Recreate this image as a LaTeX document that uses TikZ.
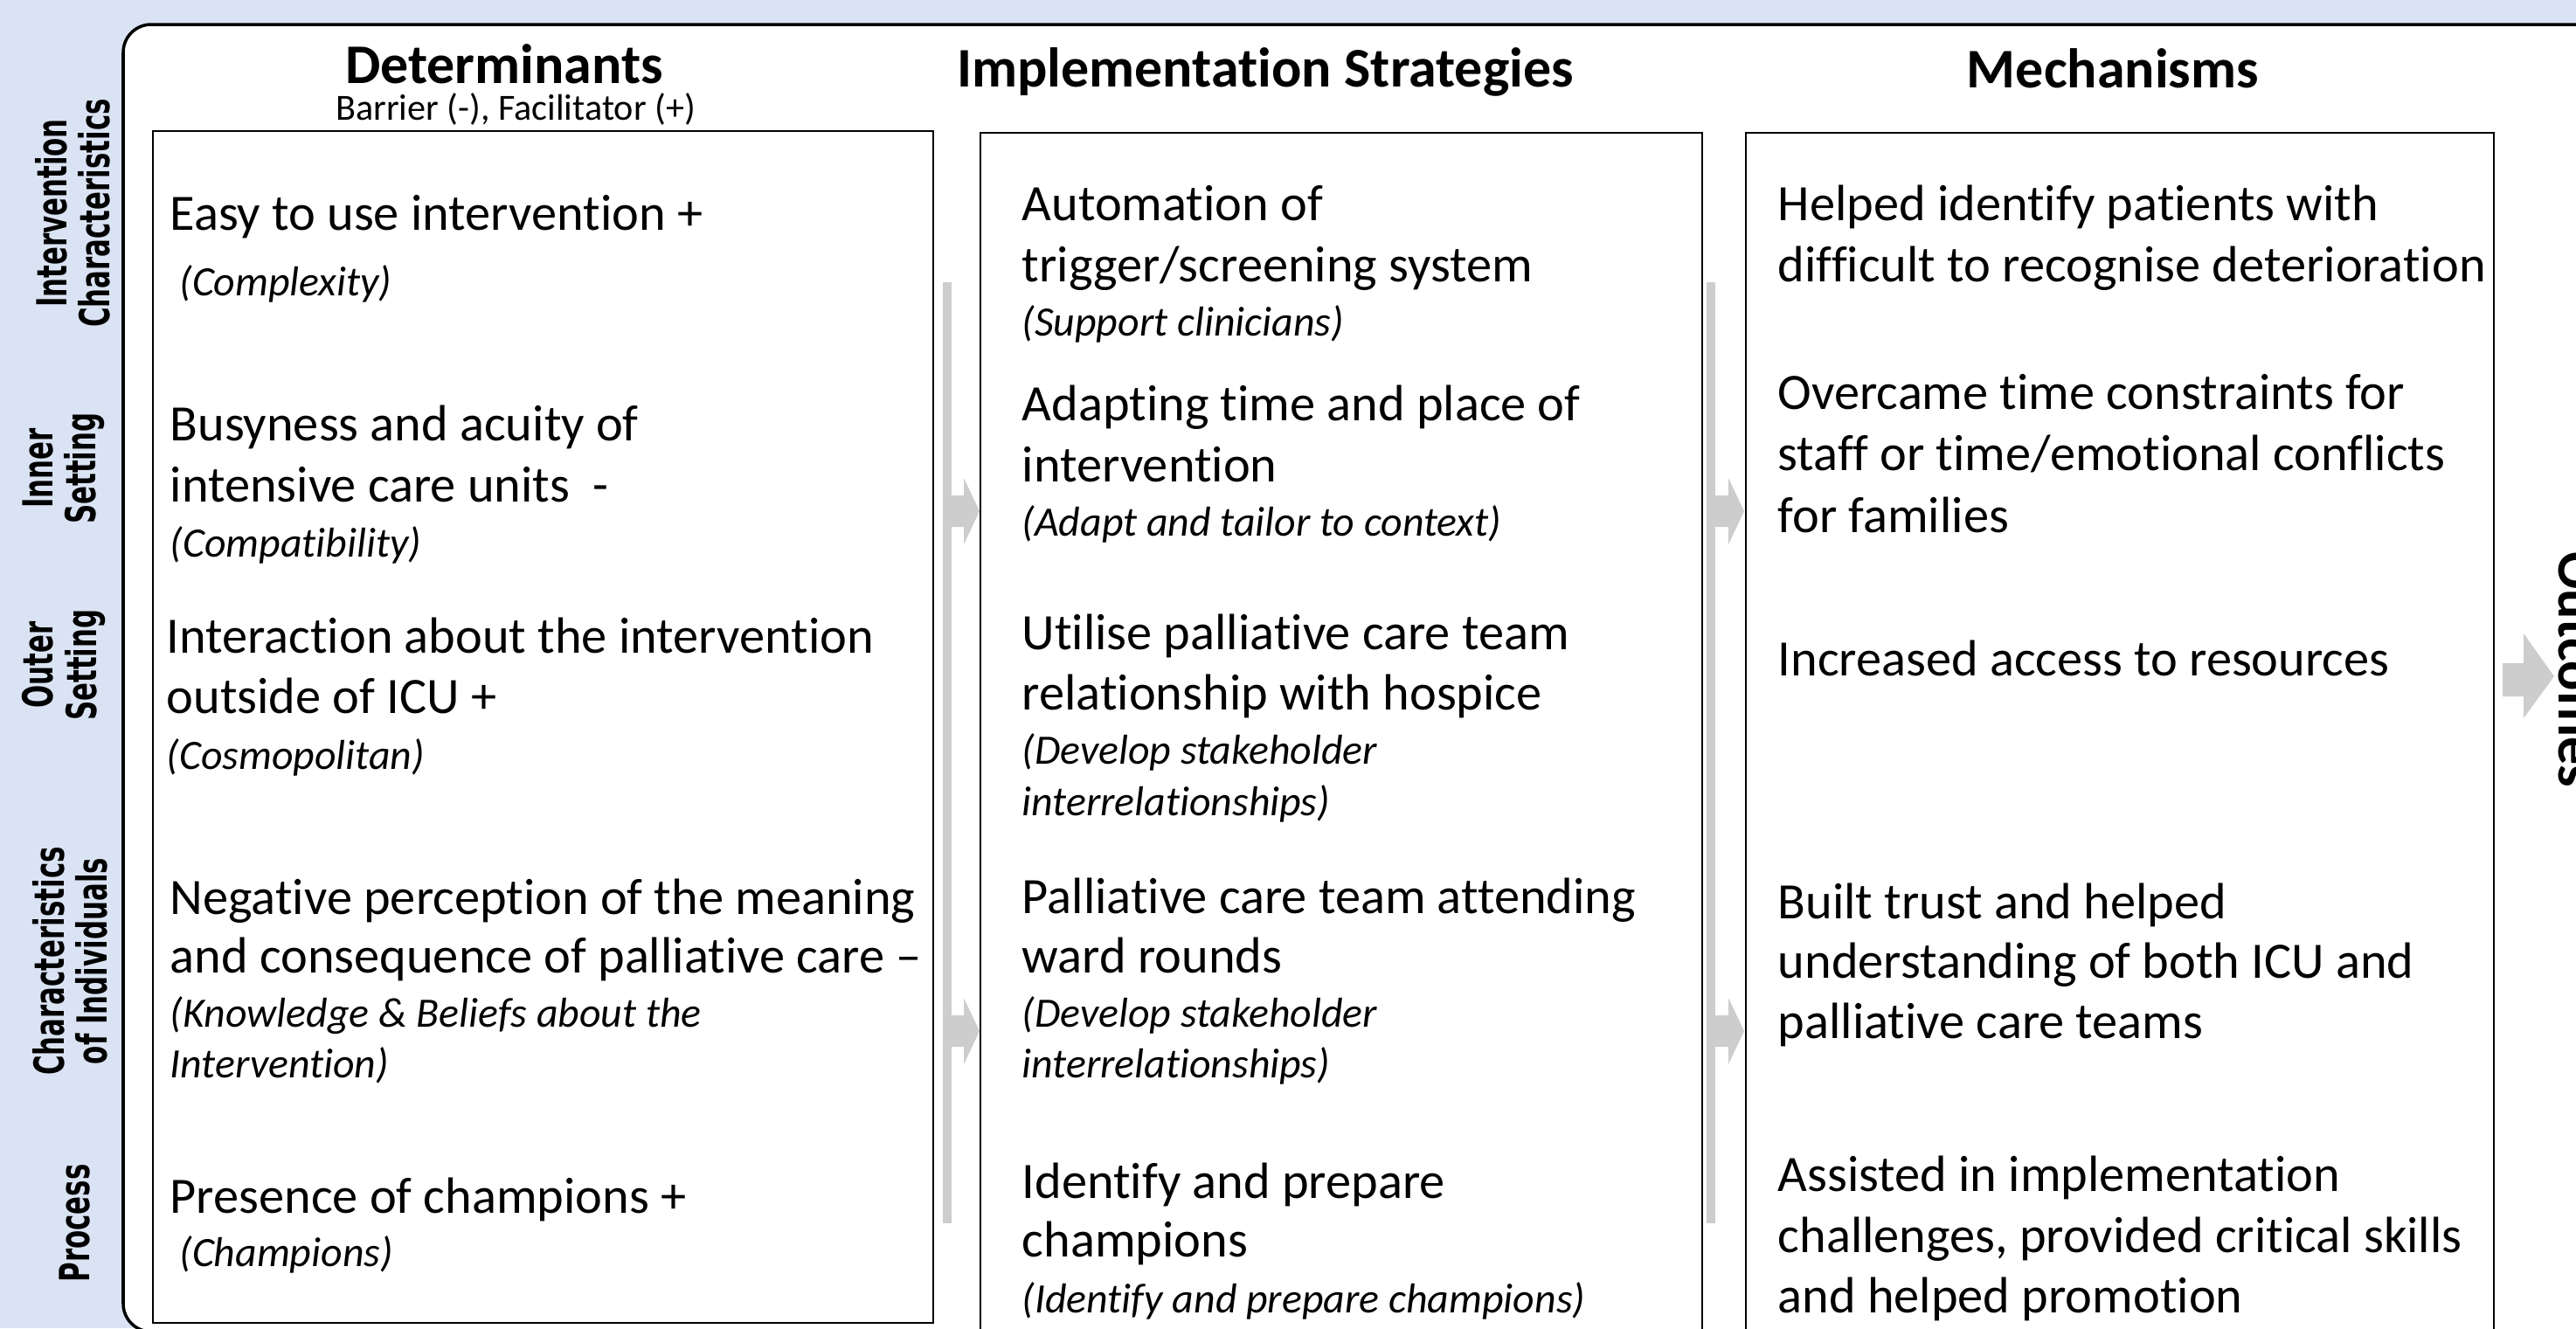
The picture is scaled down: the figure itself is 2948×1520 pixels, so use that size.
\documentclass[tikz,border=0pt]{standalone}
\usepackage{fontspec}
\setmainfont{Carlito}[Ligatures=NoCommon]
\newfontfamily\lblfont{DejaVu Sans}[FakeStretch=0.65]
\definecolor{bgblue}{RGB}{218,227,243}
\definecolor{arrgray}{RGB}{205,205,205}
\begin{document}
\begin{tikzpicture}[x=0.01cm,y=-0.01cm,
  hdr/.style={inner sep=0pt,font=\fontsize{18.2pt}{20pt}\selectfont\bfseries},
  ln/.style={inner sep=0pt,anchor=base west,font=\fontsize{16.6pt}{19pt}\selectfont},
  it/.style={inner sep=0pt,anchor=base west,font=\fontsize{13.6pt}{16pt}\selectfont\itshape},
  lbl/.style={inner sep=0pt,rotate=90,align=center,font=\lblfont\fontsize{13.5pt}{14pt}\selectfont\bfseries},
  colbox/.style={draw=black,line width=0.8pt,fill=white},
  garrow/.style={fill=arrgray,draw=none}]
\useasboundingbox (0,0) rectangle (2948,1520);
\clip (0,0) rectangle (2948,1520);
\fill[bgblue] (0,0) rectangle (2948,1520);
\draw[line width=1pt,fill=white,rounded corners=0.32cm] (141,28) rectangle (3050,1524);
% column boxes
\draw[colbox] (175,150) rectangle (1068,1514);
\draw[colbox] (1122,152) rectangle (1948,1540);
\draw[colbox] (1998,152) rectangle (2854,1540);
% headers
\node[hdr] (hdet) at (577,73) {Determinants};
\node[inner sep=0pt,font=\fontsize{12pt}{14pt}\selectfont] (hbar) at (590,125) {Barrier (-), Facilitator (+)};
\node[hdr] (himp) at (1448,82) {Implementation Strategies};
\node[hdr] (hmech) at (2418,78) {Mechanisms};
% left labels
\node[lbl] (l1) at (83,244) {Intervention\\Characteristics};
\node[lbl] (l2) at (73,536) {Inner\\Setting};
\node[lbl] (l3) at (73,761) {Outer\\Setting};
\node[lbl] (l4) at (80,1100) {Characteristics\\of Individuals};
\node[lbl] (l5) at (86,1400) {Process};
% Outcomes
\node[inner sep=0pt,rotate=-90,anchor=base,font=\fontsize{18.2pt}{20pt}\selectfont\bfseries] (hout) at (2928,766) {Outcomes};
% Determinants texts
\node[ln] (d1a) at (194,263) {Easy to use intervention +};
\node[it] (d1b) at (194,338) {\ (Complexity)};
\node[ln] (d2a) at (194,504) {Busyness and acuity of};
\node[ln] (d2b) at (194,574) {intensive care units\ \ -};
\node[it] (d2c) at (194,637) {(Compatibility)};
\node[ln] (d3a) at (190,747) {Interaction about the intervention};
\node[ln] (d3b) at (190,816) {outside of ICU +};
\node[it] (d3c) at (190,880) {(Cosmopolitan)};
\node[ln] (d4a) at (194,1046) {Negative perception of the meaning};
\node[ln] (d4b) at (194,1113) {and consequence of palliative care –};
\node[it] (d4c) at (194,1175) {(Knowledge \& Beliefs about the};
\node[it] (d4d) at (194,1233) {Intervention)};
\node[ln] (d5a) at (194,1388) {Presence of champions +};
\node[it] (d5b) at (194,1449) {\ (Champions)};
% Implementation texts
\node[ln] (s1a) at (1169,252) {Automation of};
\node[ln] (s1b) at (1169,322) {trigger/screening system};
\node[it] (s1c) at (1169,384) {(Support clinicians)};
\node[ln] (s2a) at (1169,481) {Adapting time and place of};
\node[ln] (s2b) at (1169,551) {intervention};
\node[it] (s2c) at (1169,613) {(Adapt and tailor to context)};
\node[ln] (s3a) at (1169,743) {Utilise palliative care team};
\node[ln] (s3b) at (1169,812) {relationship with hospice};
\node[it] (s3c) at (1169,874) {(Develop stakeholder};
\node[it] (s3d) at (1169,933) {interrelationships)};
\node[ln] (s4a) at (1169,1045) {Palliative care team attending};
\node[ln] (s4b) at (1169,1113) {ward rounds};
\node[it] (s4c) at (1169,1175) {(Develop stakeholder};
\node[it] (s4d) at (1169,1233) {interrelationships)};
\node[ln] (s5a) at (1169,1371) {Identify and prepare};
\node[ln] (s5b) at (1169,1438) {champions};
\node[it] (s5c) at (1169,1502) {(Identify and prepare champions)};
% Mechanism texts
\node[ln] (m1a) at (2034,252) {Helped identify patients with};
\node[ln] (m1b) at (2034,322) {difficult to recognise deterioration};
\node[ln] (m2a) at (2034,468) {Overcame time constraints for};
\node[ln] (m2b) at (2034,538) {staff or time/emotional conflicts};
\node[ln] (m2c) at (2034,609) {for families};
\node[ln] (m3a) at (2034,773) {Increased access to resources};
\node[ln] (m4a) at (2034,1051) {Built trust and helped};
\node[ln] (m4b) at (2034,1119) {understanding of both ICU and};
\node[ln] (m4c) at (2034,1188) {palliative care teams};
\node[ln] (m5a) at (2034,1363) {Assisted in implementation};
\node[ln] (m5b) at (2034,1433) {challenges, provided critical skills};
\node[ln] (m5c) at (2034,1502) {and helped promotion};
% gray arrows between columns
\fill[garrow] (1079,323) rectangle (1089,1400);
\fill[garrow] (1089,567) -- (1103,567) -- (1103,547) -- (1121,585) -- (1103,623) -- (1103,603) -- (1089,603) -- cycle;
\fill[garrow] (1089,1162) -- (1103,1162) -- (1103,1142) -- (1121,1180) -- (1103,1218) -- (1103,1198) -- (1089,1198) -- cycle;
\fill[garrow] (1953,323) rectangle (1963,1400);
\fill[garrow] (1963,567) -- (1978,567) -- (1978,547) -- (1996,585) -- (1978,623) -- (1978,603) -- (1963,603) -- cycle;
\fill[garrow] (1963,1162) -- (1978,1162) -- (1978,1142) -- (1996,1180) -- (1978,1218) -- (1978,1198) -- (1963,1198) -- cycle;
% outcomes arrow
\fill[garrow] (2864,759) -- (2888,759) -- (2888,725) -- (2923,774) -- (2888,822) -- (2888,797) -- (2864,797) -- cycle;
\end{tikzpicture}
\end{document}
